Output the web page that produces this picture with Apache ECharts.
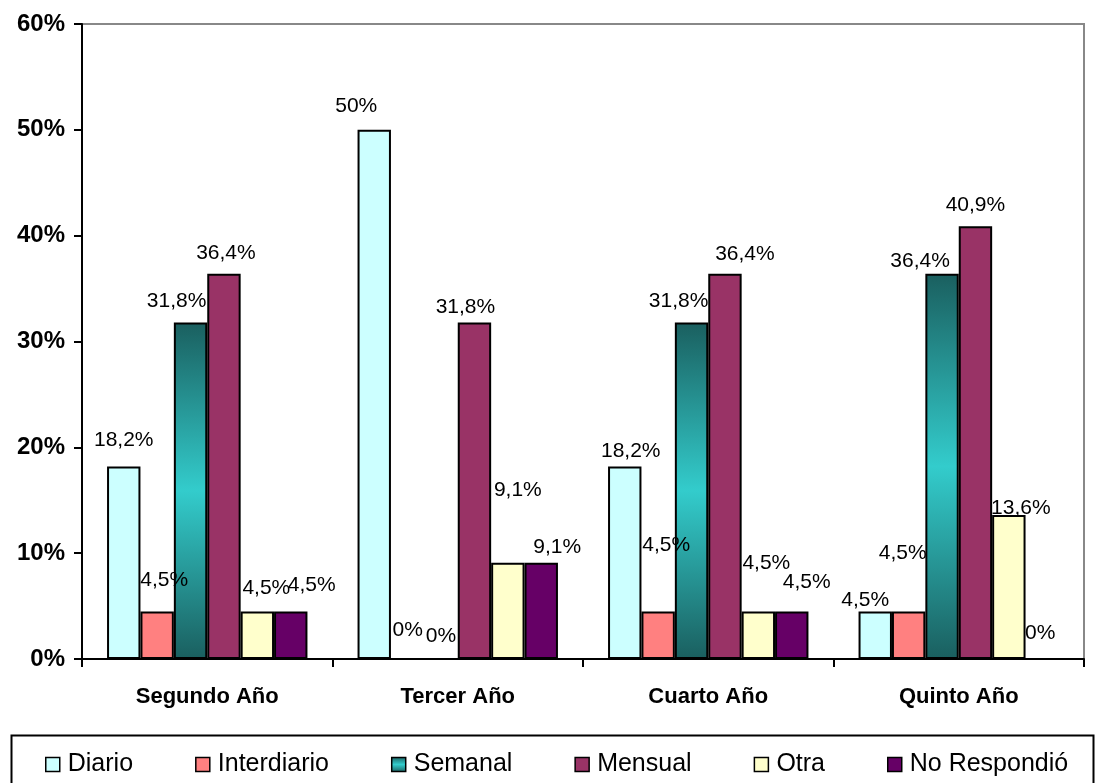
<!DOCTYPE html>
<html>
<head>
<meta charset="utf-8">
<script src="https://cdn.jsdelivr.net/npm/echarts@6/dist/echarts.min.js"></script>
<style>
  html, body { margin: 0; padding: 0; background: #fff; }
  #chart { width: 1096px; height: 783px; }
</style>
</head>
<body>
<div id="chart"></div>
<script>
// datos
const categories = ['Segundo Año', 'Tercer Año', 'Cuarto Año', 'Quinto Año'];
const diario      = [18.2, 50, 18.2, 4.5];
const interdiario = [4.5, 0, 4.5, 4.5];
const semanal     = [31.8, 0, 31.8, 36.4];
const mensual     = [36.4, 31.8, 36.4, 40.9];
const otra        = [4.5, 9.1, 4.5, 13.6];
const noRespondio = [4.5, 9.1, 4.5, 0];
const yTicks = [0, 10, 20, 30, 40, 50, 60];

// desplazamiento de etiquetas (como en el original de Excel)
const labelShift = {
  'Diario':       [[0, -11], [-18, -8], [6, 0], [-10, 4]],
  'Interdiario':  [[7, -16], [0, -12], [8, -51], [-6, -43]],
  'Semanal':      [[-14, -6], [0, -6], [-13, -6], [-22, 3]],
  'Mensual':      [[2, -5], [-9, 0], [20, -4], [0, -5]],
  'Otra':         [[9, -8], [10, -57], [8, -33], [12, 9]],
  'No Respondió': [[21, -11], [16, 0], [15, -14], [-2, -9]]
};

const semanalGrad = new echarts.graphic.LinearGradient(0, 0, 0, 1, [
  { offset: 0, color: '#1a5f5f' },
  { offset: 0.5, color: '#33cccc' },
  { offset: 1, color: '#1a5f5f' }
]);

const seriesDefs = [
  { name: 'Diario', data: diario, color: '#ccffff' },
  { name: 'Interdiario', data: interdiario, color: '#ff8080' },
  { name: 'Semanal', data: semanal, color: semanalGrad },
  { name: 'Mensual', data: mensual, color: '#993366' },
  { name: 'Otra', data: otra, color: '#ffffcc' },
  { name: 'No Respondió', data: noRespondio, color: '#660066' }
];

const fmt = v => String(v).replace('.', ',') + '%';

const series = seriesDefs.map(s => ({
  name: s.name,
  type: 'bar',
  barGap: 0,
  barCategoryGap: '20%',
  itemStyle: { color: s.color, borderColor: '#000', borderWidth: 2 },
  data: s.data.map((v, i) => ({
    value: v,
    label: { offset: labelShift[s.name][i] }
  })),
  label: {
    show: true,
    position: 'top',
    distance: 5,
    color: '#000',
    fontSize: 21,
    fontFamily: 'Liberation Sans, Arial, sans-serif',
    formatter: p => fmt(p.value)
  }
}));

const chart = echarts.init(document.getElementById('chart'));
chart.setOption({
  animation: false,
  backgroundColor: '#fff',
  grid: {
    left: 82, top: 24, right: 12, bottom: 124,
    show: true, borderColor: '#888', borderWidth: 2
  },
  legend: {
    left: 40,
    top: 747,
    itemWidth: 14,
    itemHeight: 14,
    itemGap: 62,
    icon: 'rect',
    itemStyle: { borderColor: '#000', borderWidth: 1.5 },
    textStyle: { fontSize: 25, color: '#000', fontFamily: 'Liberation Sans, Arial, sans-serif', padding: [0, 0, 0, 3] },
    data: seriesDefs.map(s => s.name)
  },
  graphic: [{
    type: 'rect',
    left: 9, top: 733,
    shape: { width: 1082, height: 70 },
    style: { fill: 'none', stroke: '#000', lineWidth: 2 },
    z: -1
  }],
  xAxis: {
    type: 'category',
    data: categories,
    axisLine: { lineStyle: { color: '#000', width: 2 } },
    axisTick: { show: true, length: 8, lineStyle: { color: '#000', width: 2 } },
    axisLabel: {
      margin: 27,
      fontSize: 22,
      fontWeight: 'bold',
      color: '#000',
      fontFamily: 'Liberation Sans, Arial, sans-serif'
    }
  },
  yAxis: {
    type: 'value',
    min: yTicks[0],
    max: yTicks[yTicks.length - 1],
    interval: 10,
    axisLine: { show: true, lineStyle: { color: '#000', width: 2 } },
    axisTick: { show: true, length: 8, lineStyle: { color: '#000', width: 2 } },
    splitLine: { show: false },
    axisLabel: {
      margin: 17,
      fontSize: 24,
      fontWeight: 'bold',
      color: '#000',
      fontFamily: 'Liberation Sans, Arial, sans-serif',
      formatter: '{value}%'
    }
  },
  series: series
});
</script>
</body>
</html>
